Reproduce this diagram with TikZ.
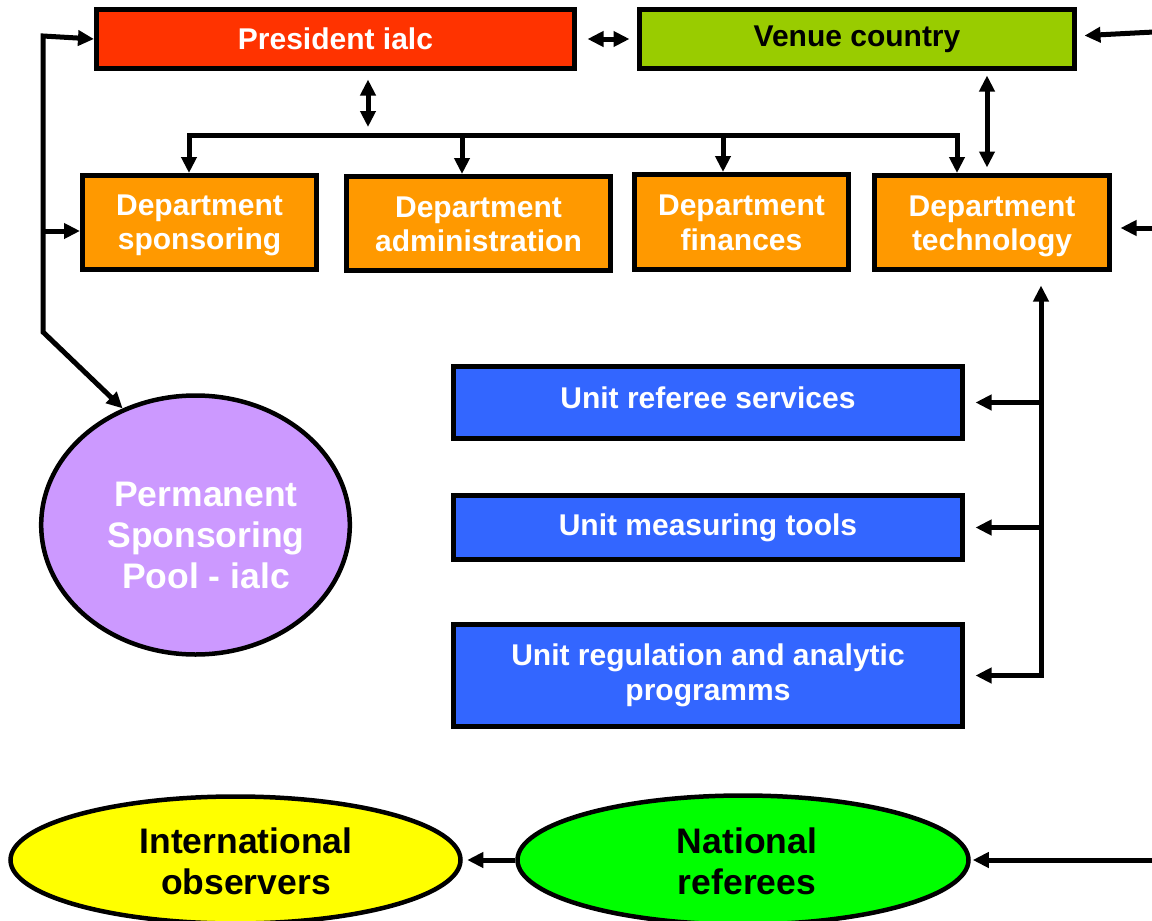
\documentclass[tikz,border=0pt]{standalone}
\usepackage{fontspec}
\setmainfont{Liberation Sans}
\usetikzlibrary{arrows.meta,shapes.geometric}

\definecolor{presred}{HTML}{FF3300}
\definecolor{venuegreen}{HTML}{99CC00}
\definecolor{deptorange}{HTML}{FF9900}
\definecolor{unitblue}{HTML}{3366FF}
\definecolor{poolviolet}{HTML}{CC99FF}
\definecolor{obsyellow}{HTML}{FFFF00}
\definecolor{refgreen}{HTML}{00FF00}

% text block pushed right by #1/2 and down by -#2
\newcommand\offtext[3]{\raisebox{#2}[\height][\depth]{\hspace*{#1}\begin{tabular}{@{}c@{}}#3\end{tabular}}}

\begin{document}
\begin{tikzpicture}[x=1pt,y=-1pt,
    box/.style={draw,line width=5pt,inner sep=0pt,align=center,text=white,
      font=\bfseries\fontsize{30}{34.5}\selectfont},
    oval/.style={ellipse,draw,line width=4.5pt,inner sep=0pt,align=center,
      font=\bfseries\fontsize{35.5}{41}\selectfont},
    link/.style={line width=5pt,-{Triangle[length=16pt,width=15pt]}},
    both/.style={line width=5pt,{Triangle[length=16pt,width=15pt]}-{Triangle[length=16pt,width=15pt]}}]
    \useasboundingbox (0,0) rectangle (1152,921);
    % top row
    \node[box,fill=presred,minimum width=478pt,minimum height=59pt] (pres) at (335.5,39) {President ialc};
    \node[box,fill=venuegreen,text=black,minimum width=435pt,minimum height=59pt] (venue) at (857,39) {Venue country};
    % departments
    \node[box,fill=deptorange,minimum width=234pt,minimum height=94pt] (spons) at (199.5,222.5) {\offtext{0pt}{-3pt}{Department\\sponsoring}};
    \node[box,fill=deptorange,minimum width=264pt,minimum height=94pt] (admin) at (478.5,223.5) {\offtext{0pt}{-4pt}{Department\\administration}};
    \node[box,fill=deptorange,minimum width=214pt,minimum height=95pt] (fin) at (741.5,222) {\offtext{0pt}{-4pt}{Department\\finances}};
    \node[box,fill=deptorange,minimum width=235pt,minimum height=94pt] (tech) at (992,222.5) {\offtext{0pt}{-4pt}{Department\\technology}};
    % units
    \node[box,fill=unitblue,minimum width=509pt,minimum height=72pt] (referee) at (708,402.5) {\offtext{0pt}{1pt}{Unit referee services}};
    \node[box,fill=unitblue,minimum width=509pt,minimum height=64pt] (measure) at (708,527.5) {Unit measuring tools};
    \node[box,fill=unitblue,minimum width=509pt,minimum height=102pt] (regul) at (708,675.5) {Unit regulation and analytic\\programms};
    % ovals
    \node[oval,fill=poolviolet,text=white,minimum width=300pt,minimum height=259pt] (pool) at (195.5,525)
      {\offtext{21pt}{-14pt}{Permanent\\Sponsoring\\Pool - ialc}};
    \node[oval,fill=obsyellow,minimum width=450pt,minimum height=127pt] (intl) at (235.5,860)
      {\offtext{21pt}{-6pt}{International\\observers}};
    \node[oval,fill=refgreen,minimum width=451pt,minimum height=129pt] (natl) at (743,860)
      {\offtext{8pt}{-6pt}{National\\referees}};

    % president and venue
    \draw[both,shorten <=10.5pt,shorten >=7.5pt] (pres.east) -- (venue.west);
    % president down to the departments
    \coordinate (busl) at (189,135);
    \coordinate (busr) at (957,135);
    \draw[both,shorten <=8.5pt,shorten >=8pt] (368,0 |- pres.south) -- (368,0 |- busl);
    \draw[both] (busl |- spons.north) |- (busr) -- (busr |- tech.north);
    \foreach \n/\x in {admin/462,fin/723}
      \draw[link] (\x,135) -- (\x,0 |- \n.north);
    \draw[both,shorten <=4.5pt,shorten >=5.5pt] (987,0 |- venue.south) -- (987,0 |- tech.north);
    % left feed
    \coordinate (lt) at (43,36);
    \coordinate (lb) at (43,332);
    \coordinate (lm) at (43,231);
    \draw[both] (pres.west) -- (lt) -- (lb) -- (pool.122);
    \draw[link] (lm) -- (lm -| spons.west);
    % technology and its units
    \coordinate (ub) at (1041,675.5);
    \draw[both,shorten <=10.5pt,shorten >=13.5pt] (regul.east) -| (ub |- tech.south);
    \foreach \n in {referee,measure}
      \draw[link,shorten >=10.5pt] (\n.east -| ub) -- (\n.east);
    % right feed
    \coordinate (rt) at (1154,32);
    \coordinate (rm) at (1154,228);
    \coordinate (rb) at (1154,860);
    \draw[line width=5pt] (rt) -- (rb);
    \draw[link,shorten >=7.5pt] (rt) -- ([yshift=3pt]venue.east);
    \draw[link,shorten >=8.5pt] (rm) -- (rm -| tech.east);
    \draw[link,shorten >=2pt] (rb) -- (natl.east);
    % referees to observers
    \draw[link,shorten >=4.5pt] (natl.west) -- (intl.east);
\end{tikzpicture}
\end{document}
